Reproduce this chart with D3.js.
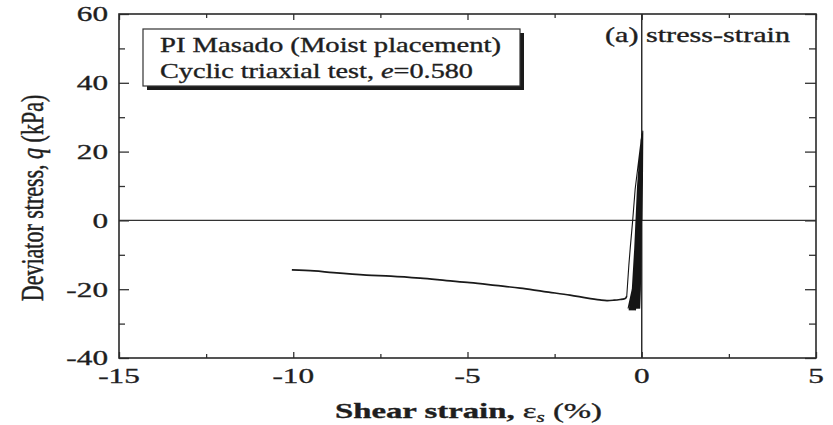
<!DOCTYPE html>
<html>
<head>
<meta charset="utf-8">
<script src="https://cdn.jsdelivr.net/npm/d3@7"></script>
<style>
  body { margin: 0; background: #fff; }
  svg { display: block; font-family: "Liberation Serif", "Times New Roman", serif; }
  svg text { stroke: #222; stroke-width: 0.35px; }
</style>
</head>
<body>
<div id="container"></div>
<script>
// tick values
const xMajor = [-15, -10, -5, 0, 5]
const xMinor = [-12.5, -7.5, -2.5, 2.5]
const yMajor = [-40, -20, 0, 20, 40, 60]
const yMinor = [-30, -10, 10, 30, 50]

// cyclic part (strain %, q kPa)
const cyclic = [
  [0, 0], [0.02, 12], [0.03, 26],
  [0.0, 10], [-0.03, -8], [-0.05, -20], [-0.06, -25.5],
  [-0.04, -20], [-0.02, -8], [0.0, 10], [0.02, 25.5],
  [-0.02, 10], [-0.05, -8], [-0.07, -20], [-0.09, -25.5],
  [-0.06, -20], [-0.04, -8], [-0.01, 10], [0.02, 25.5],
  [-0.03, 10], [-0.07, -8], [-0.09, -20], [-0.12, -25.5],
  [-0.09, -20], [-0.06, -8], [-0.02, 10], [0.01, 25],
  [-0.04, 10], [-0.08, -8], [-0.11, -20], [-0.15, -25.5],
  [-0.11, -20], [-0.07, -8], [-0.03, 10], [0.01, 25],
  [-0.05, 10], [-0.10, -8], [-0.13, -20], [-0.18, -26],
  [-0.13, -20], [-0.09, -8], [-0.04, 10], [0.0, 25],
  [-0.06, 10], [-0.11, -8], [-0.15, -20], [-0.21, -26],
  [-0.15, -20], [-0.10, -8], [-0.05, 10], [0.0, 24.5],
  [-0.07, 10], [-0.13, -8], [-0.17, -20], [-0.24, -26],
  [-0.17, -20], [-0.12, -8], [-0.06, 10], [0.0, 24.5],
  [-0.08, 10], [-0.14, -8], [-0.19, -20], [-0.27, -26],
  [-0.19, -20], [-0.13, -8], [-0.07, 10], [-0.01, 24],
  [-0.09, 10], [-0.16, -8], [-0.21, -20], [-0.30, -26],
  [-0.21, -20], [-0.15, -8], [-0.08, 10], [-0.01, 24],
  [-0.10, 10], [-0.17, -8], [-0.22, -20], [-0.33, -26],
  [-0.23, -20], [-0.16, -8], [-0.09, 10], [-0.01, 23.5],
  [-0.11, 10], [-0.19, -8], [-0.23, -20], [-0.36, -26],
  [-0.25, -20], [-0.18, -8], [-0.10, 10], [-0.02, 23.5],
  [-0.12, 10], [-0.20, -8], [-0.24, -20], [-0.39, -25.5],
  [-0.27, -20], [-0.20, -8], [-0.11, 10], [-0.02, 23],
  [-0.19, 9], [-0.26, 0], [-0.33, -8], [-0.37, -13], [-0.41, -19], [-0.43, -22]
]

// extension failure / softening branch
const failure = [
  [-0.43, -22], [-0.46, -22.6], [-0.5, -22.8], [-0.62, -23.0], [-0.8, -23.2],
  [-1.0, -23.3], [-1.2, -23.1], [-1.6, -22.5], [-2.06, -21.7], [-2.8, -20.7],
  [-3.49, -19.7], [-4.2, -18.9], [-4.93, -18.1], [-5.6, -17.5], [-6.36, -16.8],
  [-7.2, -16.2], [-7.9, -15.9], [-8.85, -15.2], [-9.4, -14.7], [-10.04, -14.4]
]

const width = 833
const height = 425
const margin = { left: 119, right: 17, top: 14, bottom: 67 }
const SX = 1.42 // the picture is stretched sideways

const x = d3.scaleLinear([-15, 5], [margin.left, width - margin.right])
const y = d3.scaleLinear([-40, 60], [height - margin.bottom, margin.top])

const svg = d3.create("svg")
  .attr("width", width)
  .attr("height", height)
  .attr("viewBox", [0, 0, width, height])

const ink = "#1e1e1e"

// zero lines
svg.append("line")
  .attr("x1", x(-15)).attr("x2", x(5))
  .attr("y1", y(0)).attr("y2", y(0))
  .attr("stroke", "#333").attr("stroke-width", 1.1)
svg.append("line")
  .attr("x1", x(0)).attr("x2", x(0))
  .attr("y1", y(60)).attr("y2", y(-40))
  .attr("stroke", "#222").attr("stroke-width", 1.4)

// ticks (inward) on all four sides
const tickAxis = (gen, vals, size, tr) => {
  const g = svg.append("g")
    .attr("transform", tr)
    .call(gen.tickValues(vals).tickSize(-size).tickFormat(""))
  g.select(".domain").remove()
  g.selectAll("line").attr("stroke", "#333").attr("stroke-width", 1.3)
}
tickAxis(d3.axisBottom(x), xMajor, 6, `translate(0,${y(-40)})`)
tickAxis(d3.axisBottom(x), xMinor, 4, `translate(0,${y(-40)})`)
tickAxis(d3.axisTop(x), xMajor, 6, `translate(0,${y(60)})`)
tickAxis(d3.axisTop(x), xMinor, 4, `translate(0,${y(60)})`)
tickAxis(d3.axisLeft(y), yMajor, 10, `translate(${x(-15)},0)`)
tickAxis(d3.axisLeft(y), yMinor, 6, `translate(${x(-15)},0)`)
tickAxis(d3.axisRight(y), yMajor, 11, `translate(${x(5)},0)`)
tickAxis(d3.axisRight(y), yMinor, 7, `translate(${x(5)},0)`)

// frame
svg.append("rect")
  .attr("x", x(-15)).attr("y", y(60))
  .attr("width", x(5) - x(-15)).attr("height", y(-40) - y(60))
  .attr("fill", "none").attr("stroke", "#2a2a2a").attr("stroke-width", 1.6)

// tick labels
svg.append("g").selectAll("text")
  .data(yMajor)
  .join("text")
  .attr("transform", d => `translate(${x(-15) - 11},${y(d)}) scale(${SX},1)`)
  .attr("text-anchor", "end")
  .attr("dominant-baseline", "central")
  .attr("font-size", 22)
  .attr("fill", ink)
  .text(d => d < 0 ? "-" + Math.abs(d) : d)

svg.append("g").selectAll("text")
  .data(xMajor)
  .join("text")
  .attr("transform", d => `translate(${x(d)},${y(-40) + 25}) scale(${SX},1)`)
  .attr("text-anchor", "middle")
  .attr("font-size", 22)
  .attr("fill", ink)
  .text(d => d < 0 ? "-" + Math.abs(d) : d)

// data
const line = d3.line().x(d => x(d[0])).y(d => y(d[1]))
svg.append("path")
  .datum(cyclic)
  .attr("d", line)
  .attr("fill", "none")
  .attr("stroke", "#151515")
  .attr("stroke-width", 1.1)
  .attr("stroke-linejoin", "round")
svg.append("path")
  .datum(failure)
  .attr("d", line.curve(d3.curveCatmullRom))
  .attr("fill", "none")
  .attr("stroke", "#1a1a1a")
  .attr("stroke-width", 1.7)

// legend box with drop shadow
const bx = 143, by = 29, bw = 377, bh = 57
svg.append("rect")
  .attr("x", bx + 4).attr("y", by + 4).attr("width", bw).attr("height", bh)
  .attr("fill", "#1a1a1a")
svg.append("rect")
  .attr("x", bx).attr("y", by).attr("width", bw).attr("height", bh)
  .attr("fill", "#fff").attr("stroke", "#333").attr("stroke-width", 1.2)

svg.append("text")
  .attr("x", 160).attr("y", 52)
  .attr("font-size", 21).attr("fill", ink)
  .attr("textLength", 341).attr("lengthAdjust", "spacingAndGlyphs")
  .text("PI Masado (Moist placement)")

const l2 = svg.append("text")
  .attr("x", 160).attr("y", 78)
  .attr("font-size", 21).attr("fill", ink)
  .attr("textLength", 313).attr("lengthAdjust", "spacingAndGlyphs")
l2.append("tspan").text("Cyclic triaxial test, ")
l2.append("tspan").attr("font-style", "italic").text("e")
l2.append("tspan").text("=0.580")

svg.append("text")
  .attr("x", 605).attr("y", 42)
  .attr("font-size", 21).attr("fill", ink)
  .attr("textLength", 185).attr("lengthAdjust", "spacingAndGlyphs")
  .text("(a) stress-strain")

// axis titles
const xt = svg.append("text")
  .attr("x", 335).attr("y", 418)
  .attr("font-size", 22).attr("fill", ink)
  .attr("textLength", 267).attr("lengthAdjust", "spacingAndGlyphs")
xt.append("tspan").attr("font-weight", "bold").text("Shear strain,  ")
xt.append("tspan").text("ε")
xt.append("tspan").attr("font-style", "italic").attr("font-size", 14).attr("dy", 4).text("s")
xt.append("tspan").attr("dy", -4).text("  (%)")

const yt = svg.append("text")
  .attr("transform", `translate(43,198) scale(1.45,1) rotate(-90)`)
  .attr("text-anchor", "middle")
  .attr("font-size", 22).attr("fill", ink)
yt.append("tspan").text("Deviator stress, ")
yt.append("tspan").attr("font-style", "italic").text("q")
yt.append("tspan").text(" (kPa)")

container.append(svg.node())
</script>
</body>
</html>
